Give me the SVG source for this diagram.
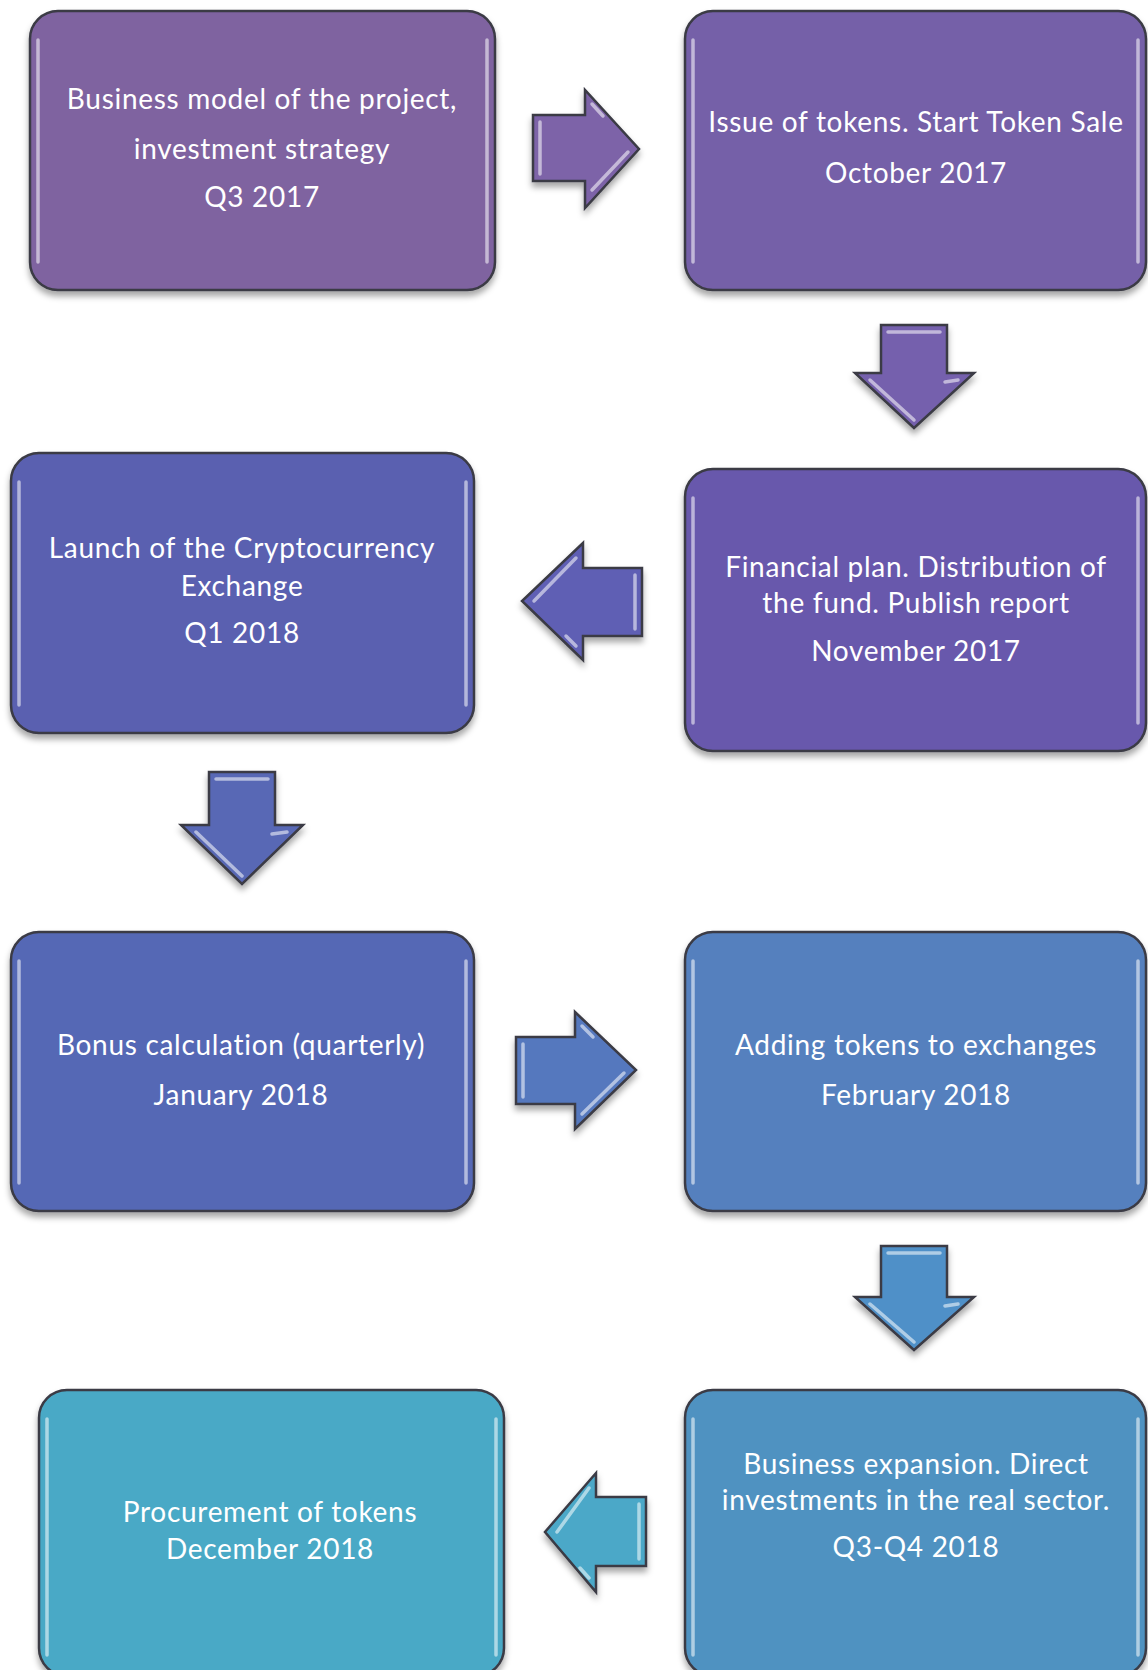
<svg xmlns="http://www.w3.org/2000/svg" width="1148" height="1670" viewBox="0 0 1148 1670">
<defs>
<filter id="sh" x="-10%" y="-10%" width="120%" height="125%">
<feDropShadow dx="0" dy="5" stdDeviation="3" flood-color="#000" flood-opacity="0.35"/>
</filter>
</defs>
<style>
.box{stroke:#3a3a44;stroke-width:2.5;filter:url(#sh)}
.hl{fill:none;stroke:#ffffff;stroke-opacity:0.55;stroke-width:3.5;stroke-linecap:round}
.arr{stroke:#3a3a44;stroke-width:2.5;stroke-linejoin:miter;filter:url(#sh)}
.ahl{fill:none;stroke:#ffffff;stroke-opacity:0.55;stroke-width:3.5;stroke-linecap:round}
text{font-family:Lato,"Open Sans","Liberation Sans",sans-serif;font-size:28px;letter-spacing:0.7px;fill:#ffffff;text-anchor:middle}
</style>
<rect width="1148" height="1670" fill="#ffffff"/>

<g id="connectors">
<g id="a1">
<path class="arr" fill="#7D64A8" d="M533,115 H585 V90 L639,149 L585,208 V181 H533 Z"/>
<path class="ahl" d="M540,122 V174 M592,190 L628,152 M592,104 L603,116"/>
</g>
<g id="a2">
<path class="arr" fill="#7461AD" d="M881,325 H947 V373 H974 L914,428 L855,373 H881 Z"/>
<path class="ahl" d="M888,332 H940 M870,380 L914,420 M945,382 L958,380"/>
</g>
<g id="a3">
<path class="arr" fill="#5E5EB4" d="M642,568 H583 V543 L522,601 L583,660 V636 H642 Z"/>
<path class="ahl" d="M635,575 V629 M576,558 L534,601 M576,646 L566,636"/>
</g>
<g id="a4">
<path class="arr" fill="#5968B5" d="M209,772 H275 V825 H303 L242,884 L181,825 H209 Z"/>
<path class="ahl" d="M216,779 H268 M196,832 L242,876 M272,834 L287,832"/>
</g>
<g id="a5">
<path class="arr" fill="#5578BE" d="M516,1037 H575 V1012 L636,1070 L575,1129 V1104 H516 Z"/>
<path class="ahl" d="M523,1044 V1097 M582,1114 L624,1073 M582,1026 L593,1037"/>
</g>
<g id="a6">
<path class="arr" fill="#5090C8" d="M881,1246 H947 V1297 H974 L914,1350 L855,1297 H881 Z"/>
<path class="ahl" d="M888,1253 H940 M870,1304 L914,1342 M945,1306 L958,1304"/>
</g>
<g id="a7">
<path class="arr" fill="#4BA8C8" d="M646,1497 H596 V1473 L545,1532 L596,1592 V1566 H646 Z"/>
<path class="ahl" d="M639,1504 V1559 M589,1488 L557,1532 M589,1578 L580,1568"/>
</g>
</g>

<g id="n1">
<rect class="box" x="30" y="11" width="465" height="279" rx="28" fill="#7F63A0"/>
<path class="hl" d="M38,40 V262 M487,40 V262"/>
<text x="262" y="109">Business model of the project,</text>
<text x="262" y="159">investment strategy</text>
<text x="262" y="207">Q3 2017</text>
</g>

<g id="n2">
<rect class="box" x="685" y="11" width="461" height="279" rx="28" fill="#7560A8"/>
<path class="hl" d="M693,40 V262 M1138,40 V262"/>
<text x="916" y="132">Issue of tokens. Start Token Sale</text>
<text x="916" y="183">October 2017</text>
</g>

<g id="n3">
<rect class="box" x="11" y="453" width="463" height="280" rx="28" fill="#5A60B0"/>
<path class="hl" d="M19,482 V705 M466,482 V705"/>
<text x="242" y="558">Launch of the Cryptocurrency</text>
<text x="242" y="596">Exchange</text>
<text x="242" y="643">Q1 2018</text>
</g>

<g id="n4">
<rect class="box" x="685" y="469" width="461" height="282" rx="28" fill="#6759AC"/>
<path class="hl" d="M693,498 V723 M1138,498 V723"/>
<text x="916" y="577">Financial plan. Distribution of</text>
<text x="916" y="613">the fund. Publish report</text>
<text x="916" y="661">November 2017</text>
</g>

<g id="n5">
<rect class="box" x="11" y="932" width="463" height="279" rx="28" fill="#5568B5"/>
<path class="hl" d="M19,961 V1183 M466,961 V1183"/>
<text x="241" y="1055">Bonus calculation (quarterly)</text>
<text x="241" y="1105">January 2018</text>
</g>

<g id="n6">
<rect class="box" x="685" y="932" width="461" height="279" rx="28" fill="#5580BE"/>
<path class="hl" d="M693,961 V1183 M1138,961 V1183"/>
<text x="916" y="1055">Adding tokens to exchanges</text>
<text x="916" y="1105">February 2018</text>
</g>

<g id="n7">
<rect class="box" x="39" y="1390" width="465" height="286" rx="28" fill="#4AA9C6"/>
<path class="hl" d="M47,1419 V1655 M496,1419 V1655"/>
<text x="270" y="1522">Procurement of tokens</text>
<text x="270" y="1559">December 2018</text>
</g>

<g id="n8">
<rect class="box" x="685" y="1390" width="461" height="286" rx="28" fill="#4F92C1"/>
<path class="hl" d="M693,1419 V1655 M1138,1419 V1655"/>
<text x="916" y="1474">Business expansion. Direct</text>
<text x="916" y="1510">investments in the real sector.</text>
<text x="916" y="1557">Q3-Q4 2018</text>
</g>
</svg>
